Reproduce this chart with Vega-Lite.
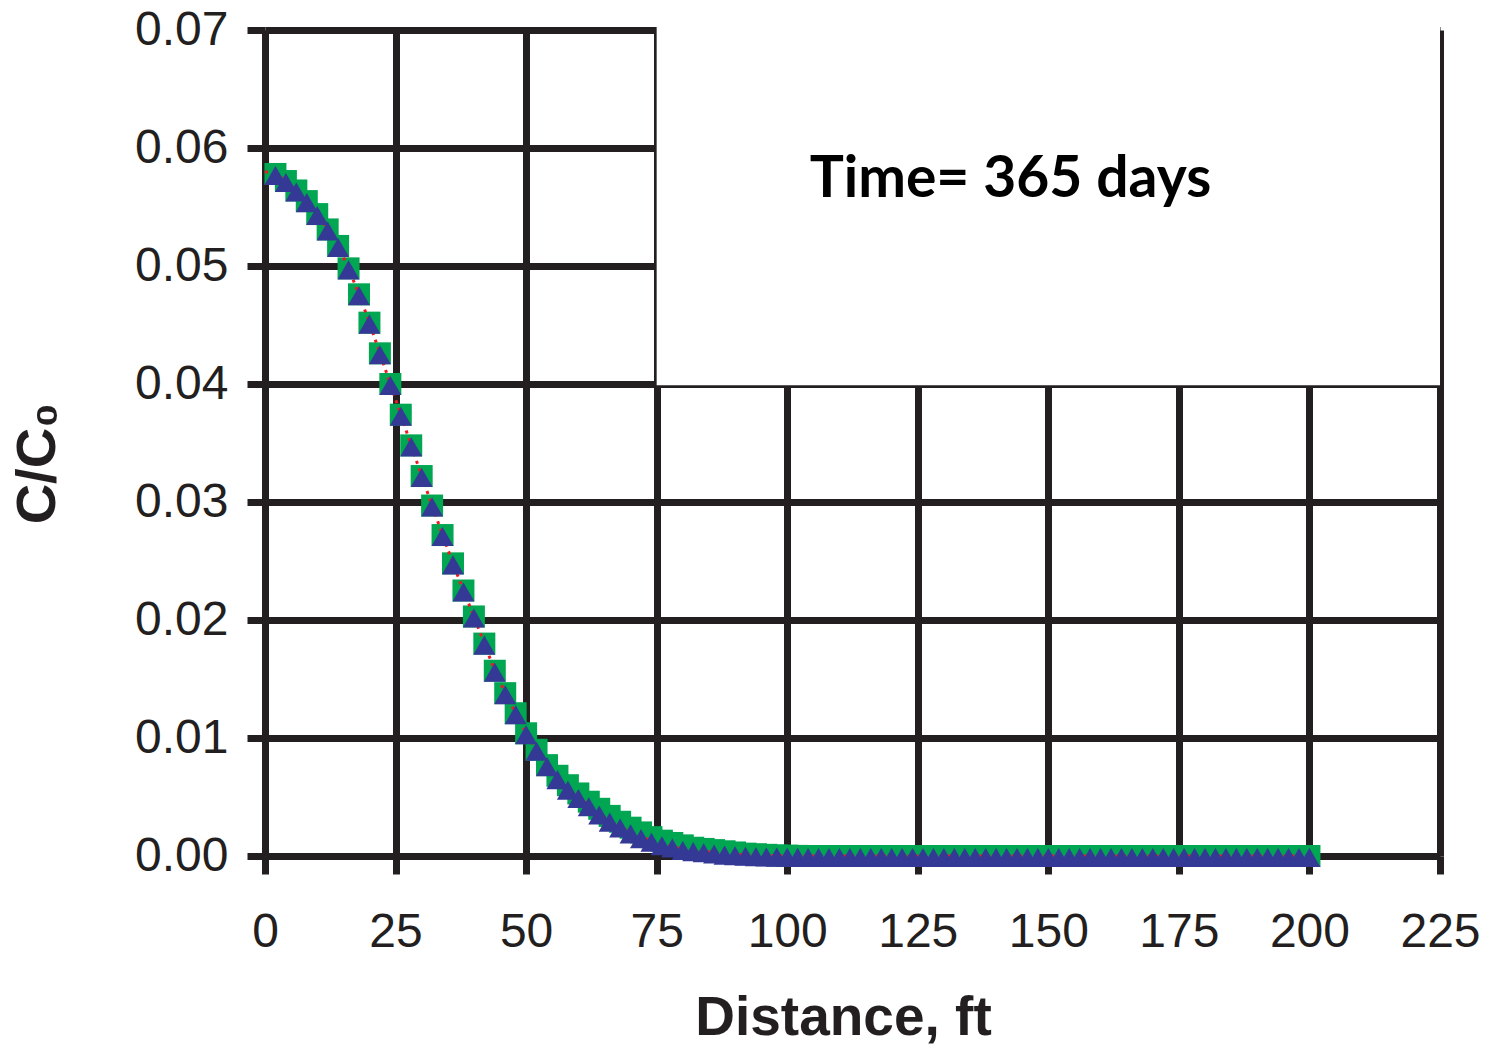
{
  "$schema": "https://vega.github.io/schema/vega-lite/v6.json",
  "width": 1175,
  "height": 826,
  "autosize": {"type": "none"},
  "padding": {"left": 265, "top": 30, "right": 50, "bottom": 192},
  "background": "white",
  "config": {"view": {"stroke": null}},
  "datasets": {
    "curves": [
      {"x": 0, "a": 0.058},
      {"x": 2, "a": 0.0578, "s": 0.0578, "t": 0.0578},
      {"x": 4, "a": 0.0572, "s": 0.0572, "t": 0.0572},
      {"x": 6, "a": 0.0564, "s": 0.0564, "t": 0.0564},
      {"x": 8, "a": 0.0555, "s": 0.0555, "t": 0.0555},
      {"x": 10, "a": 0.0544, "s": 0.0544, "t": 0.0544},
      {"x": 12, "a": 0.0531, "s": 0.0531, "t": 0.0531},
      {"x": 14, "a": 0.0517, "s": 0.0517, "t": 0.0517},
      {"x": 16, "a": 0.0498, "s": 0.0498, "t": 0.0498},
      {"x": 18, "a": 0.0476, "s": 0.0476, "t": 0.0476},
      {"x": 20, "a": 0.0452, "s": 0.0452, "t": 0.0452},
      {"x": 22, "a": 0.0426, "s": 0.0426, "t": 0.0426},
      {"x": 24, "a": 0.0400, "s": 0.0400, "t": 0.0400},
      {"x": 26, "a": 0.0374, "s": 0.0374, "t": 0.0374},
      {"x": 28, "a": 0.0348, "s": 0.0348, "t": 0.0348},
      {"x": 30, "a": 0.0322, "s": 0.0322, "t": 0.0322},
      {"x": 32, "a": 0.0297, "s": 0.0297, "t": 0.0297},
      {"x": 34, "a": 0.0272, "s": 0.0272, "t": 0.0272},
      {"x": 36, "a": 0.0248, "s": 0.0248, "t": 0.0248},
      {"x": 38, "a": 0.0225, "s": 0.0225, "t": 0.0225},
      {"x": 40, "a": 0.0203, "s": 0.0203, "t": 0.0203},
      {"x": 42, "a": 0.0180, "s": 0.0180, "t": 0.0180},
      {"x": 44, "a": 0.0157, "s": 0.0157, "t": 0.0157},
      {"x": 46, "a": 0.0138, "s": 0.0138, "t": 0.0138},
      {"x": 48, "a": 0.0121, "s": 0.0121, "t": 0.0121},
      {"x": 50, "a": 0.0104, "s": 0.0104, "t": 0.0104},
      {"x": 52, "a": 0.0090, "s": 0.0090, "t": 0.0090},
      {"x": 54, "a": 0.0077, "s": 0.0077, "t": 0.0077},
      {"x": 56, "a": 0.0066, "s": 0.0068, "t": 0.0066},
      {"x": 58, "a": 0.0057, "s": 0.0060, "t": 0.0057},
      {"x": 60, "a": 0.0050, "s": 0.0053, "t": 0.0050},
      {"x": 62, "a": 0.0043, "s": 0.0046, "t": 0.0043},
      {"x": 64, "a": 0.0036, "s": 0.0040, "t": 0.0036},
      {"x": 66, "a": 0.0030, "s": 0.0034, "t": 0.0030},
      {"x": 68, "a": 0.0025, "s": 0.0029, "t": 0.0025},
      {"x": 70, "a": 0.0020, "s": 0.0024, "t": 0.0020},
      {"x": 72, "a": 0.0016, "s": 0.0020, "t": 0.0016},
      {"x": 74, "a": 0.0013, "s": 0.0016, "t": 0.0013},
      {"x": 76, "a": 0.0010, "s": 0.0013, "t": 0.0010},
      {"x": 78, "a": 0.0008, "s": 0.0011, "t": 0.0008},
      {"x": 80, "a": 0.0006, "s": 0.0009, "t": 0.0006},
      {"x": 82, "a": 0.0005, "s": 0.0007, "t": 0.0005},
      {"x": 84, "a": 0.0004, "s": 0.0006, "t": 0.0004},
      {"x": 86, "a": 0.0003, "s": 0.0005, "t": 0.0003},
      {"x": 88, "a": 0.0002, "s": 0.0004, "t": 0.0002},
      {"x": 90, "a": 0.00015, "s": 0.0003, "t": 0.00015},
      {"x": 92, "a": 0.0001, "s": 0.0002, "t": 0.0001},
      {"x": 94, "a": 0.00007, "s": 0.00015, "t": 0.00007},
      {"x": 96, "a": 0.00005, "s": 0.0001, "t": 0.00005},
      {"x": 98, "a": 0.00003, "s": 0.00005, "t": 0.00003},
      {"x": 100, "a": 0.00002, "s": 0.00003, "t": 0.00002},
      {"x": 102, "a": 0.00001, "s": 0.00001, "t": 0.00001},
      {"x": 104, "a": 0, "s": 0, "t": 0},
      {"x": 106, "a": 0, "s": 0, "t": 0},
      {"x": 108, "a": 0, "s": 0, "t": 0},
      {"x": 110, "a": 0, "s": 0, "t": 0},
      {"x": 112, "a": 0, "s": 0, "t": 0},
      {"x": 114, "a": 0, "s": 0, "t": 0},
      {"x": 116, "a": 0, "s": 0, "t": 0},
      {"x": 118, "a": 0, "s": 0, "t": 0},
      {"x": 120, "a": 0, "s": 0, "t": 0},
      {"x": 122, "a": 0, "s": 0, "t": 0},
      {"x": 124, "a": 0, "s": 0, "t": 0},
      {"x": 126, "a": 0, "s": 0, "t": 0},
      {"x": 128, "a": 0, "s": 0, "t": 0},
      {"x": 130, "a": 0, "s": 0, "t": 0},
      {"x": 132, "a": 0, "s": 0, "t": 0},
      {"x": 134, "a": 0, "s": 0, "t": 0},
      {"x": 136, "a": 0, "s": 0, "t": 0},
      {"x": 138, "a": 0, "s": 0, "t": 0},
      {"x": 140, "a": 0, "s": 0, "t": 0},
      {"x": 142, "a": 0, "s": 0, "t": 0},
      {"x": 144, "a": 0, "s": 0, "t": 0},
      {"x": 146, "a": 0, "s": 0, "t": 0},
      {"x": 148, "a": 0, "s": 0, "t": 0},
      {"x": 150, "a": 0, "s": 0, "t": 0},
      {"x": 152, "a": 0, "s": 0, "t": 0},
      {"x": 154, "a": 0, "s": 0, "t": 0},
      {"x": 156, "a": 0, "s": 0, "t": 0},
      {"x": 158, "a": 0, "s": 0, "t": 0},
      {"x": 160, "a": 0, "s": 0, "t": 0},
      {"x": 162, "a": 0, "s": 0, "t": 0},
      {"x": 164, "a": 0, "s": 0, "t": 0},
      {"x": 166, "a": 0, "s": 0, "t": 0},
      {"x": 168, "a": 0, "s": 0, "t": 0},
      {"x": 170, "a": 0, "s": 0, "t": 0},
      {"x": 172, "a": 0, "s": 0, "t": 0},
      {"x": 174, "a": 0, "s": 0, "t": 0},
      {"x": 176, "a": 0, "s": 0, "t": 0},
      {"x": 178, "a": 0, "s": 0, "t": 0},
      {"x": 180, "a": 0, "s": 0, "t": 0},
      {"x": 182, "a": 0, "s": 0, "t": 0},
      {"x": 184, "a": 0, "s": 0, "t": 0},
      {"x": 186, "a": 0, "s": 0, "t": 0},
      {"x": 188, "a": 0, "s": 0, "t": 0},
      {"x": 190, "a": 0, "s": 0, "t": 0},
      {"x": 192, "a": 0, "s": 0, "t": 0},
      {"x": 194, "a": 0, "s": 0, "t": 0},
      {"x": 196, "a": 0, "s": 0, "t": 0},
      {"x": 198, "a": 0, "s": 0, "t": 0},
      {"x": 200, "a": 0, "s": 0, "t": 0}
    ],
    "box": [{"x": 75, "x2": 225, "y": 0.0399, "y2": 0.0725}],
    "note": [{"x": 142.75, "y": 0.05585, "label": "Time= 365 days"}]
  },
  "encoding": {
    "x": {
      "field": "x",
      "type": "quantitative",
      "scale": {"domain": [0, 225], "nice": false, "zero": false},
      "axis": {
        "values": [0, 25, 50, 75, 100, 125, 150, 175, 200, 225],
        "grid": true,
        "gridColor": "#231f20",
        "gridWidth": 7,
        "domain": false,
        "ticks": true,
        "tickSize": 18,
        "tickWidth": 7,
        "tickColor": "#231f20",
        "labelFont": "Liberation Sans",
        "labelFontSize": 48,
        "labelColor": "#231f20",
        "labelPadding": 34,
        "labelFlush": false,
        "labelOverlap": false,
        "titleFont": "Liberation Sans",
        "titleFontSize": 55,
        "titleFontWeight": "bold",
        "titleColor": "#231f20",
        "titlePadding": 35,
        "titleX": 578
      },
      "title": "Distance, ft"
    },
    "y": {
      "field": "y",
      "type": "quantitative",
      "scale": {"domain": [0, 0.07], "nice": false, "zero": false},
      "axis": {
        "values": [0, 0.01, 0.02, 0.03, 0.04, 0.05, 0.06, 0.07],
        "format": ".2f",
        "grid": true,
        "gridColor": "#231f20",
        "gridWidth": 7,
        "domain": false,
        "ticks": true,
        "tickSize": 18,
        "tickWidth": 7,
        "tickColor": "#231f20",
        "labelFont": "Liberation Sans",
        "labelFontSize": 48,
        "labelColor": "#231f20",
        "labelPadding": 19,
        "labelFlush": false,
        "labelOverlap": false,
        "titleFont": "Liberation Sans",
        "titleFontSize": 56,
        "titleFontWeight": "bold",
        "titleColor": "#231f20",
        "titlePadding": 68,
        "titleY": 433
      },
      "title": "C/C₀"
    }
  },
  "layer": [
    {
      "data": {"name": "box"},
      "mark": {"type": "rect", "color": "white", "strokeWidth": 0},
      "encoding": {
        "x2": {"field": "x2"},
        "y2": {"field": "y2"}
      }
    },
    {
      "data": {"name": "curves"},
      "transform": [{"fold": ["s"], "as": ["series", "y"]}],
      "mark": {"type": "point", "shape": "square", "filled": true, "size": 484, "color": "#00a651", "opacity": 1}
    },
    {
      "data": {"name": "curves"},
      "transform": [{"fold": ["a"], "as": ["series", "y"]}],
      "mark": {"type": "line", "color": "#ed1c24", "strokeWidth": 3, "strokeDash": [3, 5]}
    },
    {
      "data": {"name": "curves"},
      "transform": [{"fold": ["t"], "as": ["series", "y"]}],
      "mark": {"type": "point", "shape": "triangle-up", "filled": true, "size": 484, "color": "#343996", "opacity": 1, "yOffset": 1.5}
    },
    {
      "data": {"name": "note"},
      "mark": {"type": "text", "font": "Lato", "fontSize": 57, "fontWeight": "bold", "color": "black", "align": "center", "baseline": "alphabetic"},
      "encoding": {"text": {"field": "label"}}
    }
  ]
}
